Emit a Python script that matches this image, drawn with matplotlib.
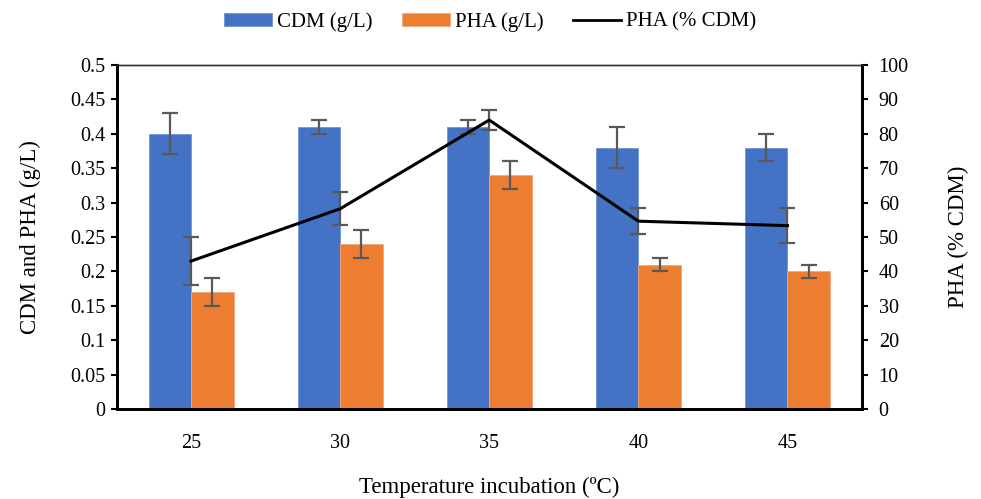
import matplotlib
matplotlib.use("Agg")
import matplotlib.pyplot as plt
import numpy as np
from matplotlib.lines import Line2D

plt.rcParams['font.family'] = ['Liberation Serif', 'DejaVu Serif']

temps = ["25", "30", "35", "40", "45"]
cdm = [0.40, 0.41, 0.41, 0.38, 0.38]
cdm_err = [0.03, 0.01, 0.01, 0.03, 0.02]
pha = [0.17, 0.24, 0.34, 0.21, 0.20]
pha_err = [0.02, 0.02, 0.02, 0.01, 0.01]
pha_pct = [43.0, 58.2, 84.0, 54.6, 53.3]
pha_pct_err = [7.0, 4.8, 2.8, 3.8, 5.0]

fig = plt.figure(figsize=(9.81, 4.99), dpi=100)
ax = fig.add_axes([116.5/981, 90/499, (862-116.5)/981, (409-65)/499])
x = np.arange(len(temps))
w = 0.285
ecol = '#595959'
ax.bar(x - w/2, cdm, w, color='#4472C4', edgecolor='#6f93d6', linewidth=0.6,
       yerr=cdm_err, error_kw=dict(ecolor=ecol, elinewidth=1.6, capsize=6, capthick=1.6),
       label='CDM (g/L)', zorder=2)
ax.bar(x + w/2, pha, w, color='#ED7D31', edgecolor='#f4a77c', linewidth=0.6,
       yerr=pha_err, error_kw=dict(ecolor=ecol, elinewidth=1.6, capsize=6, capthick=1.6),
       label='PHA (g/L)', zorder=2)
ax.set_xlim(-0.5, len(temps) - 0.5)
ax.set_ylim(0, 0.5)
ax.set_yticks(np.arange(0, 0.501, 0.05))
ax.set_yticklabels(['0', '0.05', '0.1', '0.15', '0.2', '0.25', '0.3', '0.35', '0.4', '0.45', '0.5'])
ax.set_xticks(x)
ax.set_xticklabels(temps)
ax.tick_params(axis='x', length=0, labelsize=14.5, pad=18)
ax.tick_params(axis='y', length=4, width=1.5, direction='out', labelsize=14.5, pad=4)
ax.set_ylabel('CDM and PHA (g/L)', fontsize=16.5, labelpad=21)
ax.set_xlabel('Temperature incubation (ºC)', fontsize=16.5, labelpad=17)

ax2 = ax.twinx()
ax2.errorbar(x, pha_pct, yerr=pha_pct_err, color='black', linewidth=2.2,
             ecolor=ecol, elinewidth=1.6, capsize=6, capthick=1.6, label='PHA (% CDM)', zorder=3)
ax2.set_ylim(0, 100)
ax2.set_yticks(np.arange(0, 101, 10))
ax2.tick_params(axis='y', length=4, width=1.5, direction='out', labelsize=14.5, pad=8)
ax2.set_ylabel('PHA (% CDM)', fontsize=16.5, labelpad=28)

for a in (ax, ax2):
    a.spines['left'].set_linewidth(2.0)
    a.spines['right'].set_linewidth(2.0)
    a.spines['bottom'].set_linewidth(2.0)
    a.spines['top'].set_linewidth(1.0)
    a.spines['top'].set_color('#333333')

h1, l1 = ax.get_legend_handles_labels()
h2 = [Line2D([0], [0], color='black', linewidth=2)]
leg = fig.legend(h1 + h2, l1 + ['PHA (% CDM)'], loc='center', bbox_to_anchor=(0.4995, 0.956),
                 ncol=3, frameon=False, fontsize=15, handlelength=2.3, handleheight=0.6,
                 columnspacing=1.4, handletextpad=0.25)

fig.savefig('out.png', dpi=100)
